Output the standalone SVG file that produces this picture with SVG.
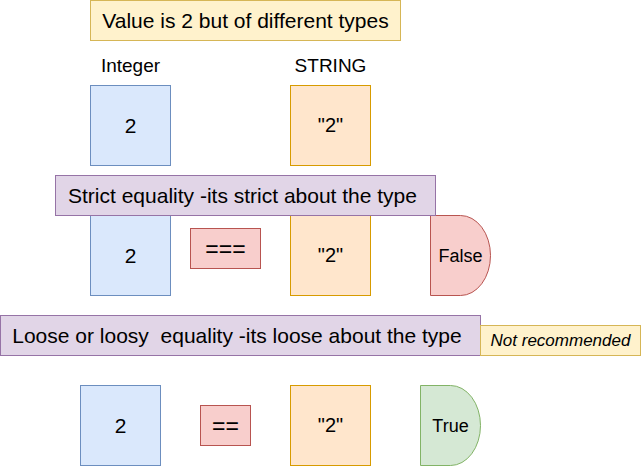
<svg xmlns="http://www.w3.org/2000/svg" width="641" height="466" viewBox="0 0 641 466">
<style>
text{font-family:"Liberation Sans",Arial,sans-serif;fill:#000;text-anchor:middle;white-space:pre}
.blue{fill:#dae8fc;stroke:#6c8ebf}
.orange{fill:#ffe6cc;stroke:#d79b00}
.red{fill:#f8cecc;stroke:#b85450}
.purple{fill:#e1d5e7;stroke:#9673a6}
.yellow{fill:#fff2cc;stroke:#d6b656}
.green{fill:#d5e8d4;stroke:#82b366}
.big{font-size:21px}
.op{font-size:23px}
.lbl{font-size:19px}
.q{font-size:20px}
.mid{font-size:18px}
</style>
<g id="connectors"/>
<g id="title"><rect class="yellow" x="90.5" y="0.5" width="310" height="40"/><text class="big" x="245.5" y="28">Value is 2 but of different types</text></g>
<g id="label-integer"><text class="lbl" x="130.5" y="71.5">Integer</text></g>
<g id="label-string"><text class="lbl" x="330.5" y="71.5">STRING</text></g>
<g id="int1"><rect class="blue" x="90.5" y="85.5" width="80" height="80"/><text class="big" x="130.5" y="132.5">2</text></g>
<g id="str1"><rect class="orange" x="290.5" y="85.5" width="80" height="80"/><text class="q" x="330.5" y="132">"2"</text></g>
<g id="int2"><rect class="blue" x="90.5" y="215.5" width="80" height="80"/><text class="big" x="130.5" y="262.5">2</text></g>
<g id="op-strict"><rect class="red" x="190.5" y="228.5" width="70" height="40"/><text class="op" x="225.5" y="256.5">===</text></g>
<g id="str2"><rect class="orange" x="290.5" y="215.5" width="80" height="80"/><text class="q" x="330.5" y="262">"2"</text></g>
<g id="false"><path class="red" d="M430.5 215.5H460.5A30 40 0 0 1 460.5 295.5H430.5Z"/><text class="mid" x="460.5" y="261.5">False</text></g>
<g id="strict-label"><rect class="purple" x="55.5" y="175.5" width="380" height="40"/><text class="big" x="242.5" y="203">Strict equality -its strict about the type</text></g>
<g id="loose-label"><rect class="purple" x="0.5" y="315.5" width="480" height="40"/><text class="big" x="237" y="343">Loose or loosy  equality -its loose about the type</text></g>
<g id="not-recommended"><rect class="yellow" x="480.5" y="325.5" width="160" height="30"/><text style="font-size:17px;font-style:italic" x="560.5" y="346">Not recommended</text></g>
<g id="int3"><rect class="blue" x="80.5" y="385.5" width="80" height="80"/><text class="big" x="120.5" y="432.5">2</text></g>
<g id="op-loose"><rect class="red" x="200.5" y="405.5" width="50" height="40"/><text class="op" x="225.5" y="433.5">==</text></g>
<g id="str3"><rect class="orange" x="290.5" y="385.5" width="80" height="80"/><text class="q" x="330.5" y="432">"2"</text></g>
<g id="true"><path class="green" d="M420.5 385.5H450.5A30 40 0 0 1 450.5 465.5H420.5Z"/><text class="mid" x="450.5" y="431.5">True</text></g>
</svg>
